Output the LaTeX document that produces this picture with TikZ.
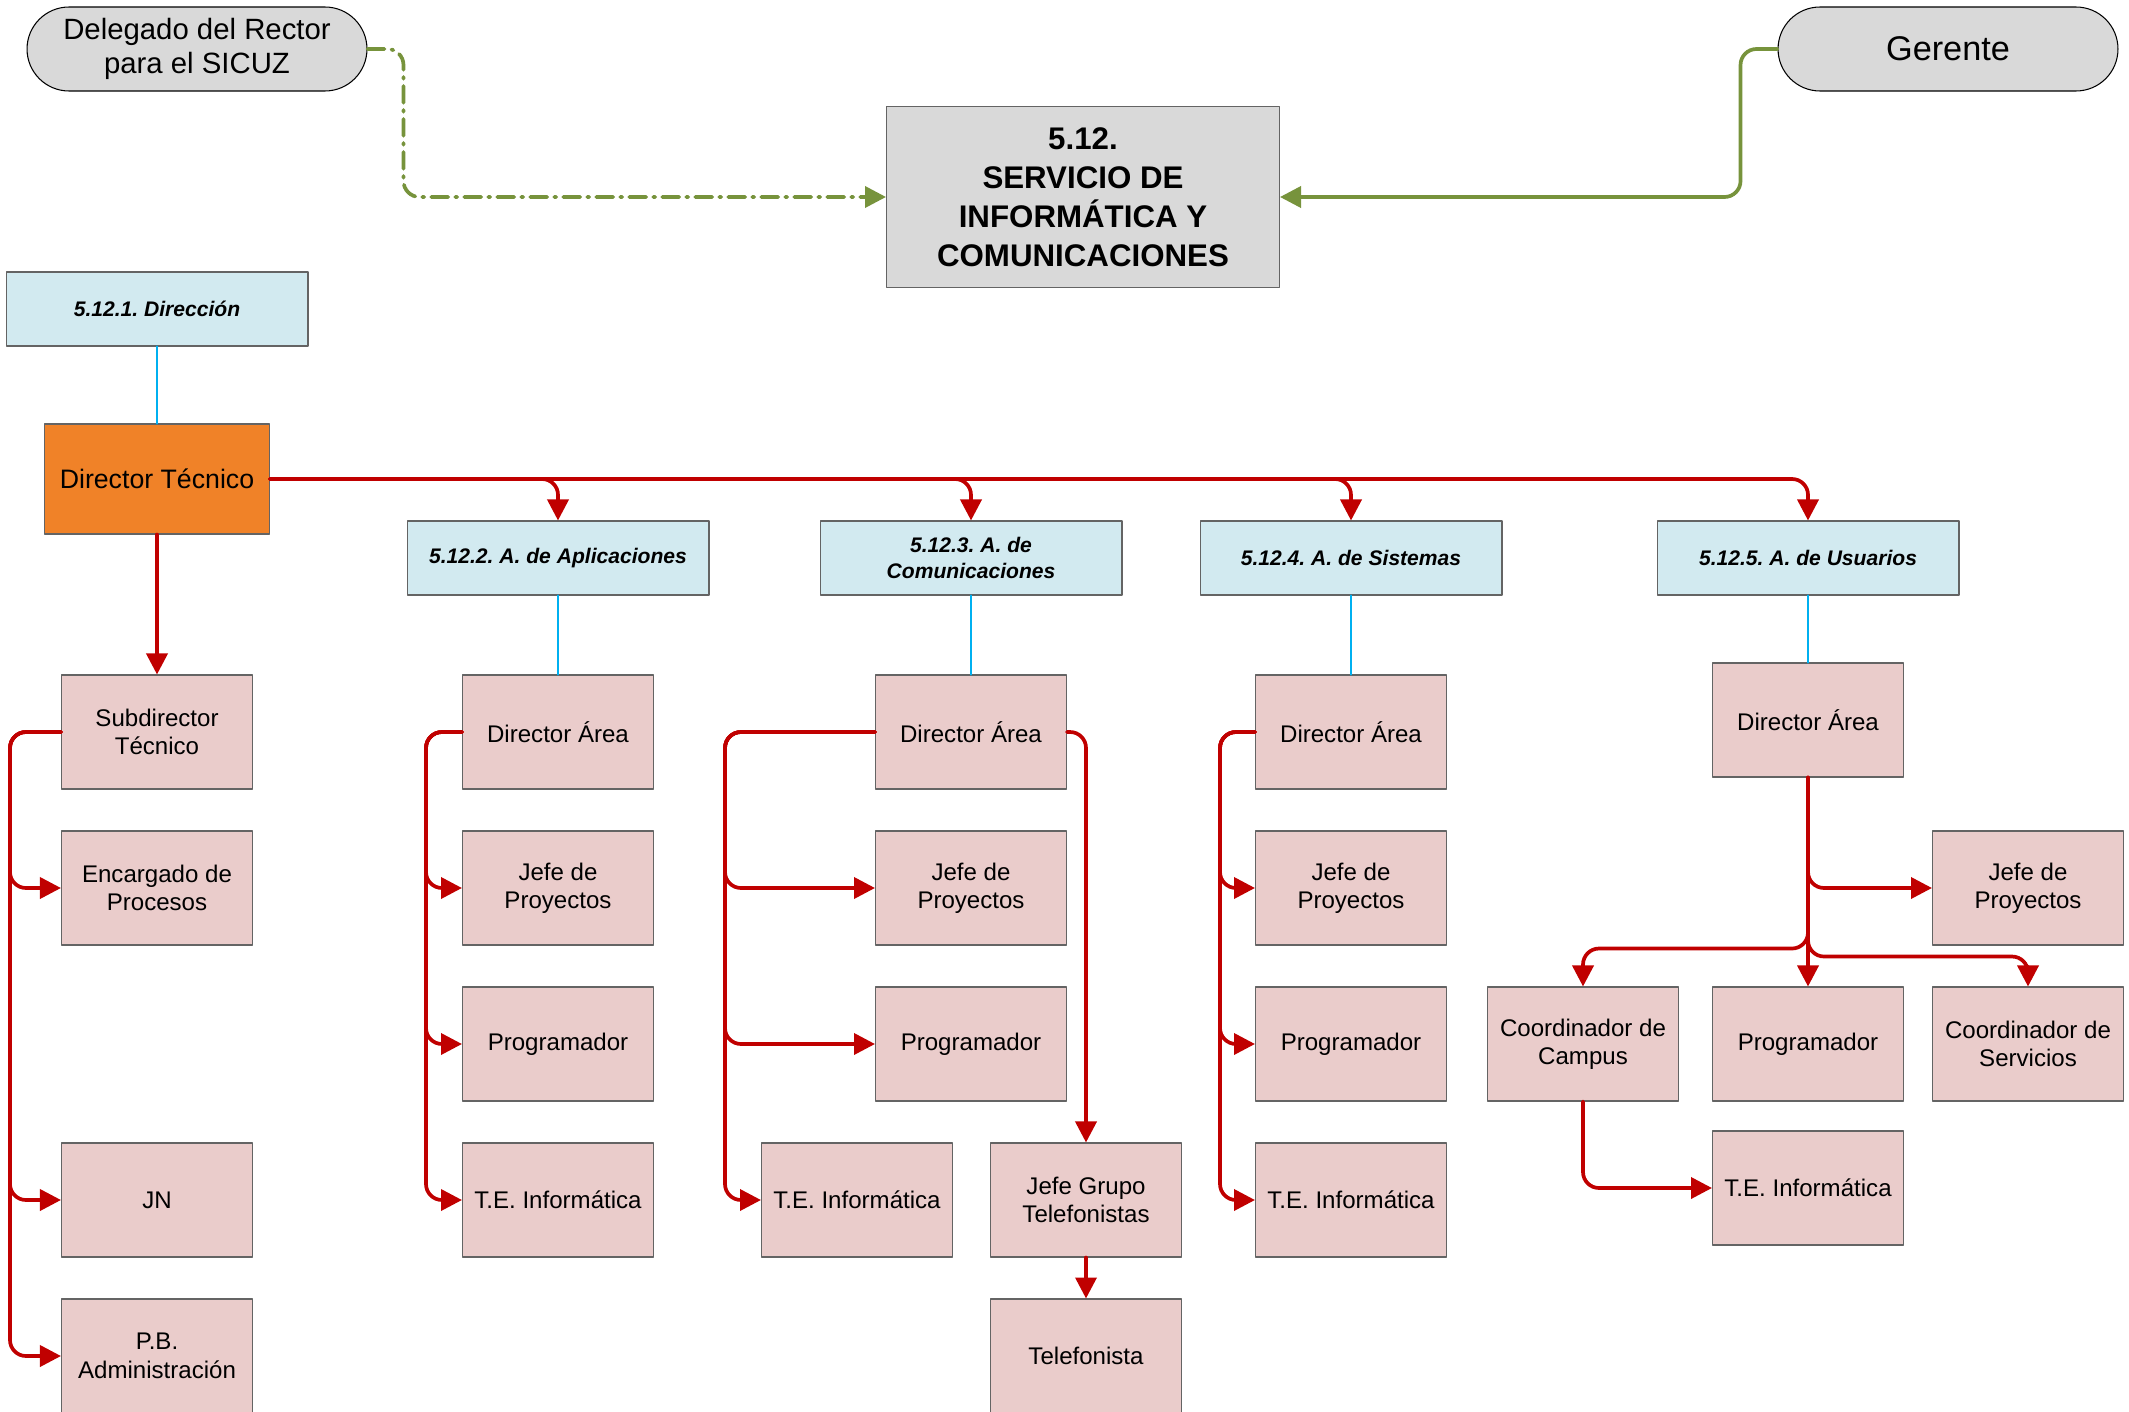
\documentclass[tikz,border=0pt]{standalone}
\usepackage{fontspec}
\setmainfont{Liberation Sans}
\usepackage{xcolor}
\usepackage{tikz}
\usetikzlibrary{arrows.meta}
\frenchspacing
\definecolor{rojo}{RGB}{192,0,0}
\definecolor{oliva}{RGB}{119,147,60}
\definecolor{cian}{RGB}{0,176,240}
\definecolor{rosa}{RGB}{234,204,203}
\definecolor{celeste}{RGB}{210,234,240}
\definecolor{naranja}{RGB}{240,130,40}
\definecolor{gris}{RGB}{217,217,217}
\definecolor{borde}{RGB}{100,100,100}
\tikzstyle{puesto} = [draw=borde, line width=0.6pt, fill=rosa, minimum width=3.82cm, minimum height=2.28cm, align=center, font=\fontsize{13.7}{16.2}\selectfont]
\tikzstyle{area} = [draw=borde, line width=0.6pt, fill=celeste, minimum width=6.04cm, minimum height=1.48cm, align=center, font=\fontsize{12}{14.7}\selectfont\bfseries\itshape]
\tikzstyle{ovalo} = [draw=black, line width=0.6pt, fill=gris, minimum width=6.8cm, minimum height=1.68cm, rounded corners=0.84cm, align=center]
\tikzstyle{central} = [draw=borde, line width=0.6pt, fill=gris, minimum width=7.86cm, minimum height=3.62cm, align=center, font=\fontsize{17.8}{22.2}\selectfont\bfseries]
\tikzstyle{jefe} = [draw=borde, line width=0.6pt, fill=naranja, minimum width=4.5cm, minimum height=2.2cm, font=\fontsize{15.2}{18}\selectfont]
\tikzstyle{flecha} = [line width=2.1pt, draw=rojo, -{Triangle[length=0.42cm,width=0.42cm]}, rounded corners=0.32cm]
\tikzstyle{verde} = [line width=2.1pt, draw=oliva, -{Triangle[length=0.42cm,width=0.42cm]}, rounded corners=0.32cm]
\tikzstyle{enlace} = [line width=1.3pt, draw=cian]

\begin{document}
\begin{tikzpicture}[line cap=round,line join=round,x=0.02cm,y=-0.02cm]
    \useasboundingbox (0,0) rectangle (2129,1412);
    % cabecera
    \node[ovalo, font=\fontsize{16.7}{19.3}\selectfont] (delegado) at (197,49) {Delegado del Rector\\para el SICUZ};
    \node[ovalo, font=\fontsize{19.5}{22}\selectfont] (gerente) at (1948,49) {Gerente};
    \node[central] (servicio) at (1083,197) {5.12.\\SERVICIO DE\\INFORMÁTICA Y\\COMUNICACIONES};
    \draw[verde, dash pattern=on 0.34cm off 0.14cm on 0.04cm off 0.14cm] (delegado.east) -- ++(36,0) |- (servicio.west);
    \draw[verde] (gerente.west) -- ++(-37,0) |- (servicio.east);
    % direccion
    \node[area] (direccion) at (157,309) {5.12.1. Dirección};
    \node[jefe] (dtecnico) at (157,479) {Director Técnico};
    \draw[enlace] (direccion.south) -- (dtecnico.north);
    % areas
    \node[area] (aplic) at (558,558) {5.12.2. A. de Aplicaciones};
    \node[area] (comun) at (971,558) {5.12.3. A. de\\Comunicaciones};
    \node[area] (sist) at (1351,558) {5.12.4. A. de Sistemas};
    \node[area] (usu) at (1808,558) {5.12.5. A. de Usuarios};
    \draw[flecha] (dtecnico.east) -| (aplic.north);
    \draw[flecha] (dtecnico.east) -| (comun.north);
    \draw[flecha] (dtecnico.east) -| (sist.north);
    \draw[flecha] (dtecnico.east) -| (usu.north);
    % subdireccion
    \node[puesto] (subdir) at (157,732) {Subdirector\\Técnico};
    \node[puesto] (encargado) at (157,888) {Encargado de\\Procesos};
    \node[puesto] (jn) at (157,1200) {JN};
    \node[puesto] (pbadmin) at (157,1356) {P.B.\\Administración};
    \draw[flecha] (dtecnico.south) -- (subdir.north);
    \draw[flecha] (subdir.west) -- ++(-51,0) |- (encargado.west);
    \draw[flecha] (subdir.west) -- ++(-51,0) |- (jn.west);
    \draw[flecha] (subdir.west) -- ++(-51,0) |- (pbadmin.west);
    % aplicaciones
    \node[puesto] (dirapl) at (558,732) {Director Área};
    \node[puesto] (jpapl) at (558,888) {Jefe de\\Proyectos};
    \node[puesto] (progapl) at (558,1044) {Programador};
    \node[puesto] (teapl) at (558,1200) {T.E. Informática};
    \draw[enlace] (aplic.south) -- (dirapl.north);
    \draw[flecha] (dirapl.west) -- ++(-36,0) |- (jpapl.west);
    \draw[flecha] (dirapl.west) -- ++(-36,0) |- (progapl.west);
    \draw[flecha] (dirapl.west) -- ++(-36,0) |- (teapl.west);
    % comunicaciones
    \node[puesto] (dircom) at (971,732) {Director Área};
    \node[puesto] (jpcom) at (971,888) {Jefe de\\Proyectos};
    \node[puesto] (progcom) at (971,1044) {Programador};
    \node[puesto] (tecom) at (857,1200) {T.E. Informática};
    \node[puesto] (jgtel) at (1086,1200) {Jefe Grupo\\Telefonistas};
    \node[puesto] (telef) at (1086,1356) {Telefonista};
    \draw[enlace] (comun.south) -- (dircom.north);
    \draw[flecha] (dircom.west) -- ++(-150,0) |- (jpcom.west);
    \draw[flecha] (dircom.west) -- ++(-150,0) |- (progcom.west);
    \draw[flecha] (dircom.west) -- ++(-150,0) |- (tecom.west);
    \draw[flecha] (dircom.east) -| (jgtel.north);
    \draw[flecha] (jgtel.south) -- (telef.north);
    % sistemas
    \node[puesto] (dirsis) at (1351,732) {Director Área};
    \node[puesto] (jpsis) at (1351,888) {Jefe de\\Proyectos};
    \node[puesto] (progsis) at (1351,1044) {Programador};
    \node[puesto] (tesis) at (1351,1200) {T.E. Informática};
    \draw[enlace] (sist.south) -- (dirsis.north);
    \draw[flecha] (dirsis.west) -- ++(-35,0) |- (jpsis.west);
    \draw[flecha] (dirsis.west) -- ++(-35,0) |- (progsis.west);
    \draw[flecha] (dirsis.west) -- ++(-35,0) |- (tesis.west);
    % usuarios
    \node[puesto] (dirusu) at (1808,720) {Director Área};
    \node[puesto] (jpusu) at (2028,888) {Jefe de\\Proyectos};
    \node[puesto] (campus) at (1583,1044) {Coordinador de\\Campus};
    \node[puesto] (progusu) at (1808,1044) {Programador};
    \node[puesto] (servicios) at (2028,1044) {Coordinador de\\Servicios};
    \node[puesto] (teusu) at (1808,1188) {T.E. Informática};
    \draw[enlace] (usu.south) -- (dirusu.north);
    \draw[flecha] (dirusu.south) |- (jpusu.west);
    \draw[flecha] (dirusu.south) -- ++(0,171) -| (campus.north);
    \draw[flecha] (dirusu.south) -- (progusu.north);
    \draw[flecha] (dirusu.south) -- ++(0,179) -| (servicios.north);
    \draw[flecha] (campus.south) |- (teusu.west);
\end{tikzpicture}
\end{document}
